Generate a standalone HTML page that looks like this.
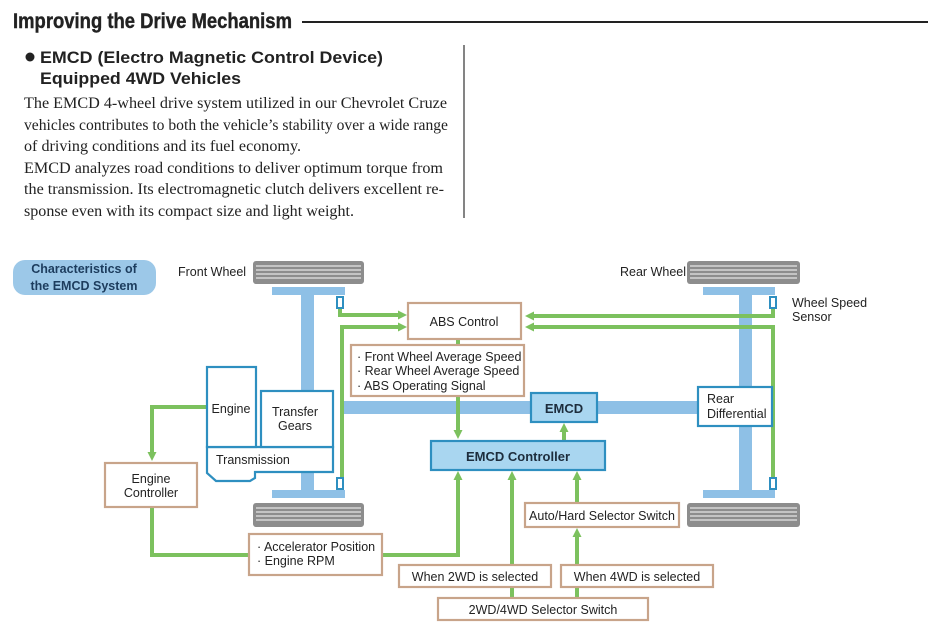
<!DOCTYPE html>
<html><head><meta charset="utf-8"><style>
html,body{margin:0;padding:0;background:#fff;width:935px;height:634px;overflow:hidden}
svg{display:block}
.s{font-family:"Liberation Sans",sans-serif;font-size:12.5px;fill:#222}
.p{font-family:"Liberation Serif",serif;font-size:15.3px;fill:#222}
</style></head><body>
<svg width="935" height="634" viewBox="0 0 935 634" xmlns="http://www.w3.org/2000/svg">
<defs>
<marker id="a" markerWidth="9" markerHeight="9" refX="4" refY="4.5" orient="auto" markerUnits="userSpaceOnUse"><path d="M0,0 L9,4.5 L0,9 z" fill="#7cc15e"/></marker>
</defs>
<!-- header -->
<text x="13" y="28" font-family="Liberation Sans,sans-serif" font-weight="bold" font-size="21" fill="#222" stroke="#222" stroke-width="0.4" textLength="279" lengthAdjust="spacingAndGlyphs">Improving the Drive Mechanism</text>
<line x1="302" y1="22" x2="928" y2="22" stroke="#222" stroke-width="2"/>
<line x1="464" y1="45" x2="464" y2="218" stroke="#333" stroke-width="1.2"/>
<circle cx="30" cy="57" r="4.5" fill="#222"/>
<text x="40" y="63" font-family="Liberation Sans,sans-serif" font-weight="bold" font-size="17" fill="#222" textLength="343" lengthAdjust="spacingAndGlyphs">EMCD (Electro Magnetic Control Device)</text>
<text x="40" y="84" font-family="Liberation Sans,sans-serif" font-weight="bold" font-size="17" fill="#222" textLength="201" lengthAdjust="spacingAndGlyphs">Equipped 4WD Vehicles</text>
<text class="p" x="24" y="108" textLength="423" lengthAdjust="spacingAndGlyphs">The EMCD 4-wheel drive system utilized in our Chevrolet Cruze</text>
<text class="p" x="24" y="130" textLength="424" lengthAdjust="spacingAndGlyphs">vehicles contributes to both the vehicle’s stability over a wide range</text>
<text class="p" x="24" y="151" textLength="277" lengthAdjust="spacingAndGlyphs">of driving conditions and its fuel economy.</text>
<text class="p" x="24" y="173" textLength="419" lengthAdjust="spacingAndGlyphs">EMCD analyzes road conditions to deliver optimum torque from</text>
<text class="p" x="24" y="194" textLength="420" lengthAdjust="spacingAndGlyphs">the transmission. Its electromagnetic clutch delivers excellent re-</text>
<text class="p" x="24" y="216" textLength="330" lengthAdjust="spacingAndGlyphs">sponse even with its compact size and light weight.</text>

<!-- badge -->
<rect x="13" y="260" width="143" height="35" rx="12" fill="#9cc8e8"/>
<text x="84" y="273" text-anchor="middle" font-family="Liberation Sans,sans-serif" font-weight="bold" font-size="12.5" fill="#1d3d5e">Characteristics of</text>
<text x="84" y="290" text-anchor="middle" font-family="Liberation Sans,sans-serif" font-weight="bold" font-size="12.5" fill="#1d3d5e">the EMCD System</text>
<text class="s" x="178" y="276">Front Wheel</text>
<text class="s" x="620" y="276">Rear Wheel</text>
<text class="s" x="792" y="307">Wheel Speed</text>
<text class="s" x="792" y="321">Sensor</text>

<!-- tires -->
<g fill="#8d8d8d">
<rect x="253" y="261" width="111" height="23" rx="3"/>
<rect x="253" y="503" width="111" height="24" rx="3"/>
<rect x="687" y="261" width="113" height="23" rx="3"/>
<rect x="687" y="503" width="113" height="24" rx="3"/>
</g>
<g stroke="#e6e6e6" stroke-width="1.2">
<path d="M256 266H361M256 270H361M256 274H361M256 278H361"/>
<path d="M256 508H361M256 512H361M256 516H361M256 520H361"/>
<path d="M690 266H797M690 270H797M690 274H797M690 278H797"/>
<path d="M690 508H797M690 512H797M690 516H797M690 520H797"/>
</g>

<!-- blue shafts -->
<g fill="#8ec0e6">
<rect x="272" y="287" width="73" height="8"/>
<rect x="272" y="490" width="73" height="8"/>
<rect x="301" y="287" width="13" height="211"/>
<rect x="703" y="287" width="72" height="8"/>
<rect x="703" y="490" width="72" height="8"/>
<rect x="739" y="287" width="13" height="211"/>
<rect x="344" y="401" width="356" height="13"/>
</g>

<!-- green lines -->
<g stroke="#7cc15e" stroke-width="4" fill="none">
<path d="M340 306V315H402" marker-end="url(#a)"/>
<path d="M342 480V327H402" marker-end="url(#a)"/>
<path d="M773 306V316H530" marker-end="url(#a)"/>
<path d="M773 480V327H530" marker-end="url(#a)"/>
<path d="M458 339V434" marker-end="url(#a)"/>
<path d="M564 441V428" marker-end="url(#a)"/>
<path d="M207 407H152V456" marker-end="url(#a)"/>
<path d="M152 507V555H458V476" marker-end="url(#a)"/>
<path d="M512 598V476" marker-end="url(#a)"/>
<path d="M577 598V533" marker-end="url(#a)"/>
<path d="M577 503V476" marker-end="url(#a)"/>
</g>

<!-- sensors -->
<g fill="#fff" stroke="#2e8fc0" stroke-width="2">
<rect x="337" y="297" width="6" height="11"/>
<rect x="337" y="478" width="6" height="11"/>
<rect x="770" y="297" width="6" height="11"/>
<rect x="770" y="478" width="6" height="11"/>
</g>

<!-- engine block -->
<g fill="#fff" stroke="#2e8fc0" stroke-width="2.2">
<path d="M207 447H333V472H255V478L250 481H216L207 473Z"/>
<rect x="207" y="367" width="49" height="80"/>
<rect x="261" y="391" width="72" height="56"/>
</g>
<text class="s" x="231" y="413" text-anchor="middle">Engine</text>
<text class="s" x="295" y="416" text-anchor="middle">Transfer</text>
<text class="s" x="295" y="430" text-anchor="middle">Gears</text>
<text class="s" x="216" y="464">Transmission</text>

<!-- tan boxes -->
<g fill="#fff" stroke="#c8a48a" stroke-width="2.2">
<rect x="408" y="303" width="113" height="36"/>
<rect x="351" y="345" width="173" height="51"/>
<rect x="105" y="463" width="92" height="44"/>
<rect x="249" y="534" width="133" height="41"/>
<rect x="525" y="503" width="154" height="24"/>
<rect x="399" y="565" width="152" height="22"/>
<rect x="561" y="565" width="152" height="22"/>
<rect x="438" y="598" width="210" height="22"/>
</g>
<text class="s" x="464" y="326" text-anchor="middle">ABS Control</text>
<text class="s" x="357" y="361">· Front Wheel Average Speed</text>
<text class="s" x="357" y="375">· Rear Wheel Average Speed</text>
<text class="s" x="357" y="390">· ABS Operating Signal</text>
<text class="s" x="151" y="483" text-anchor="middle">Engine</text>
<text class="s" x="151" y="497" text-anchor="middle">Controller</text>
<text class="s" x="257" y="551">· Accelerator Position</text>
<text class="s" x="257" y="565">· Engine RPM</text>
<text class="s" x="602" y="520" text-anchor="middle">Auto/Hard Selector Switch</text>
<text class="s" x="475" y="581" text-anchor="middle">When 2WD is selected</text>
<text class="s" x="637" y="581" text-anchor="middle">When 4WD is selected</text>
<text class="s" x="543" y="614" text-anchor="middle">2WD/4WD Selector Switch</text>

<!-- blue boxes -->
<rect x="531" y="393" width="66" height="29" fill="#a9d6f0" stroke="#2e8fc0" stroke-width="2.2"/>
<text x="564" y="413" text-anchor="middle" font-family="Liberation Sans,sans-serif" font-weight="bold" font-size="13" fill="#1d2d3d">EMCD</text>
<rect x="431" y="441" width="174" height="29" fill="#a9d6f0" stroke="#2e8fc0" stroke-width="2.2"/>
<text x="518" y="461" text-anchor="middle" font-family="Liberation Sans,sans-serif" font-weight="bold" font-size="13" fill="#1d2d3d">EMCD Controller</text>
<rect x="698" y="387" width="74" height="39" fill="#fff" stroke="#2e8fc0" stroke-width="2.2"/>
<text class="s" x="707" y="403">Rear</text>
<text class="s" x="707" y="418">Differential</text>
</svg>
</body></html>
